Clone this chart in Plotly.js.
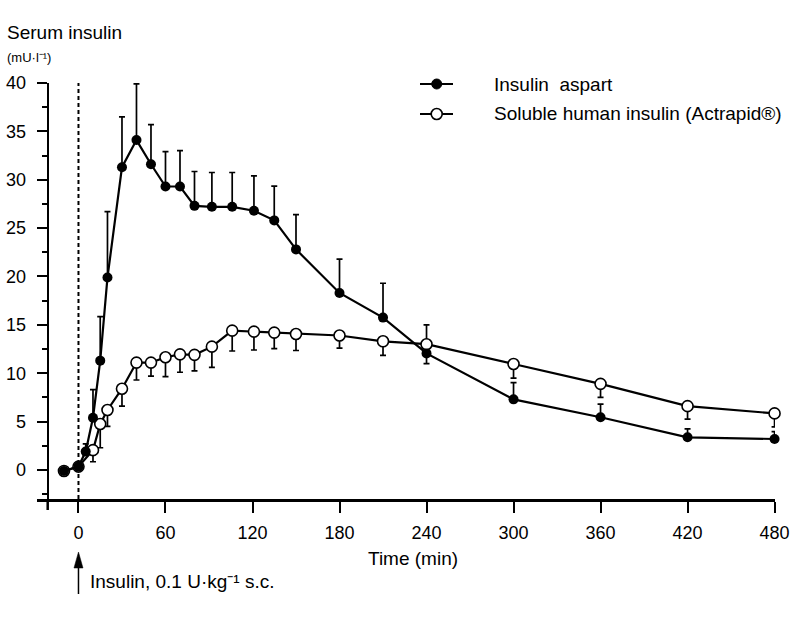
<!DOCTYPE html>
<html>
<head>
<meta charset="utf-8">
<script src="https://cdn.plot.ly/plotly-3.0.1.min.js"></script>
<style>html,body{margin:0;padding:0;background:#fff}#chart{width:800px;height:618px}</style>
</head>
<body>
<div id="chart"></div>
<script>
// Time points (min)
var timesAspart = [-10, 0, 5, 10, 15, 20, 30, 40, 50, 60, 70, 80, 92, 106, 121, 135, 150, 180, 210, 240, 300, 360, 420, 480];
var insulinAspart = [-0.1, 0.35, 1.9, 5.4, 11.3, 19.9, 31.3, 34.1, 31.6, 29.3, 29.3, 27.3, 27.2, 27.2, 26.8, 25.8, 22.8, 18.3, 15.75, 12.05, 7.3, 5.45, 3.38, 3.2];
var aspartErrPlus = [0, 0, 0.8, 2.9, 4.55, 6.8, 5.2, 5.8, 4.1, 3.6, 3.7, 3.55, 3.55, 3.55, 3.6, 3.55, 3.6, 3.5, 3.55, 0, 1.73, 1.35, 0.86, 0.76];
var aspartErrMinus = [0, 0, 0, 0, 0, 0, 0, 0, 0, 0, 0, 0, 0, 0, 0, 0, 0, 0, 0, 1.05, 0, 0, 0, 0];

var timesHuman = [-10, 0, 10, 15, 20, 30, 40, 50, 60, 70, 80, 92, 106, 121, 135, 150, 180, 210, 240, 300, 360, 420, 480];
var humanInsulin = [-0.1, 0.35, 2.05, 4.75, 6.2, 8.4, 11.1, 11.1, 11.65, 11.95, 11.9, 12.75, 14.4, 14.3, 14.2, 14.05, 13.9, 13.3, 13.0, 10.95, 8.9, 6.6, 5.85];
var humanErrPlus = [0, 0, 0, 0, 0, 0, 0, 0, 0, 0, 0, 0, 0, 0, 0, 0, 0, 0, 2.0, 0, 0, 0, 0];
var humanErrMinus = [0, 0, 1.2, 2.45, 1.7, 1.8, 1.8, 1.4, 2.0, 1.85, 1.65, 2.15, 2.1, 1.9, 1.65, 1.7, 1.3, 1.45, 0, 1.45, 1.4, 1.35, 1.4];

var xTicks = [0, 60, 120, 180, 240, 300, 360, 420, 480];
var yTicks = [0, 5, 10, 15, 20, 25, 30, 35, 40];

var legendNames = ['Insulin\u00a0 aspart', 'Soluble human insulin (Actrapid®)'];

var FONT = '"Liberation Sans", Arial, Helvetica, sans-serif';

var W = 800, H = 618;
var M = {l: 37, r: 25, t: 83, b: 119};
var PW = W - M.l - M.r, PH = H - M.t - M.b;
var XR = [-28.6, 480.3];
function px2paperX(p) { return (p - M.l) / PW; }
function px2paperY(p) { return (H - M.b - p) / PH; }
var minPerPx = (XR[1] - XR[0]) / PW;

var traceHuman = {
  x: timesHuman, y: humanInsulin, type: 'scatter', mode: 'lines+markers',
  name: legendNames[1], showlegend: false, cliponaxis: false,
  line: {color: '#000', width: 2.2},
  marker: {symbol: 'circle', size: 11, color: '#fff', line: {color: '#000', width: 1.6}},
  error_y: {type: 'data', symmetric: false, array: humanErrPlus, arrayminus: humanErrMinus,
            color: '#000', thickness: 1.7, width: 3}
};
var traceAspart = {
  x: timesAspart, y: insulinAspart, type: 'scatter', mode: 'lines+markers',
  name: legendNames[0], showlegend: false, cliponaxis: false,
  line: {color: '#000', width: 2.2},
  marker: {symbol: 'circle', size: 10, color: '#000'},
  error_y: {type: 'data', symmetric: false, array: aspartErrPlus, arrayminus: aspartErrMinus,
            color: '#000', thickness: 1.7, width: 3}
};

var yAxisPos = px2paperX(47.7);
var legY1 = px2paperY(84), legY2 = px2paperY(114);
var legL0 = px2paperX(420), legL1 = px2paperX(453), legM = px2paperX(436.7), legT = px2paperX(492);

var shapes = [
  // dashed injection line at t = 0
  {type: 'line', xref: 'x', yref: 'y', x0: 0, x1: 0, y0: -3, y1: 40, layer: 'below',
   line: {color: '#000', width: 2, dash: '4px,3px'}},
  // y-axis extension below x-axis
  {type: 'line', xref: 'paper', yref: 'paper', x0: yAxisPos, x1: yAxisPos, y0: 0, y1: -11 / PH,
   line: {color: '#000', width: 2.5}},
  // arrow shaft + head
  {type: 'line', xref: 'x', yref: 'paper', x0: 0, x1: 0, y0: px2paperY(565), y1: px2paperY(594),
   line: {color: '#000', width: 1.5}},
  {type: 'path', xref: 'x', yref: 'paper',
   path: 'M0,' + px2paperY(552) + ' L' + (4.5 * minPerPx) + ',' + px2paperY(568) + ' L' + (-4.5 * minPerPx) + ',' + px2paperY(568) + ' Z',
   fillcolor: '#000', line: {color: '#000', width: 0.5}},
  // legend symbols
  {type: 'line', xref: 'paper', yref: 'paper', x0: legL0, x1: legL1, y0: legY1, y1: legY1, line: {color: '#000', width: 2.2}},
  {type: 'circle', xref: 'paper', yref: 'paper', xsizemode: 'pixel', ysizemode: 'pixel',
   xanchor: legM, yanchor: legY1, x0: -5, x1: 5, y0: -5, y1: 5, fillcolor: '#000', line: {color: '#000', width: 1}},
  {type: 'line', xref: 'paper', yref: 'paper', x0: legL0, x1: legL1, y0: legY2, y1: legY2, line: {color: '#000', width: 2.2}},
  {type: 'circle', xref: 'paper', yref: 'paper', xsizemode: 'pixel', ysizemode: 'pixel',
   xanchor: legM, yanchor: legY2, x0: -5.5, x1: 5.5, y0: -5.5, y1: 5.5, fillcolor: '#fff', line: {color: '#000', width: 1.6}}
];

var annotations = [
  {text: 'Serum insulin', xref: 'paper', yref: 'paper', x: px2paperX(5), y: px2paperY(32),
   xanchor: 'left', yanchor: 'middle', showarrow: false, font: {family: FONT, size: 19, color: '#000'}},
  {text: '(mU·l\u207B\u00B9)', xref: 'paper', yref: 'paper', x: px2paperX(5), y: px2paperY(57),
   xanchor: 'left', yanchor: 'middle', showarrow: false, font: {family: FONT, size: 13, color: '#000'}},
  {text: legendNames[0], xref: 'paper', yref: 'paper', x: legT, y: legY1,
   xanchor: 'left', yanchor: 'middle', showarrow: false, font: {family: FONT, size: 19, color: '#000'}},
  {text: legendNames[1], xref: 'paper', yref: 'paper', x: legT, y: legY2,
   xanchor: 'left', yanchor: 'middle', showarrow: false, font: {family: FONT, size: 19, color: '#000'}},
  {text: 'Time (min)', xref: 'paper', yref: 'paper', x: px2paperX(412.5), y: px2paperY(558),
   xanchor: 'center', yanchor: 'middle', showarrow: false, font: {family: FONT, size: 19, color: '#000'}},
  {text: 'Insulin, 0.1 U·kg\u207B\u00B9 s.c.', xref: 'paper', yref: 'paper', x: px2paperX(88), y: px2paperY(581),
   xanchor: 'left', yanchor: 'middle', showarrow: false, font: {family: FONT, size: 19, color: '#000'}}
];

var layout = {
  width: W, height: H,
  margin: M,
  paper_bgcolor: '#fff', plot_bgcolor: '#fff',
  showlegend: false,
  font: {family: FONT, size: 18, color: '#000'},
  xaxis: {
    range: XR, showgrid: false, zeroline: false,
    showline: true, linecolor: '#000', linewidth: 2.5,
    ticks: 'outside', ticklen: 11, tickwidth: 2, tickcolor: '#000',
    tickmode: 'array', tickvals: xTicks, ticktext: xTicks.map(String),
    tickfont: {family: FONT, size: 18, color: '#000'}, ticklabelstandoff: 5
  },
  yaxis: {
    range: [-3, 40], showgrid: false, zeroline: false,
    anchor: 'free', position: yAxisPos,
    showline: true, linecolor: '#000', linewidth: 2.5,
    ticks: 'outside', ticklen: 10, tickwidth: 2, tickcolor: '#000',
    tickmode: 'array', tickvals: yTicks, ticktext: yTicks.map(String),
    minor: {tickmode: 'linear', tick0: 0, dtick: 2.5, ticks: 'outside', ticklen: 5, tickwidth: 2, tickcolor: '#000'},
    tickfont: {family: FONT, size: 18, color: '#000'}, ticklabelstandoff: 7
  },
  shapes: shapes,
  annotations: annotations
};

Plotly.newPlot('chart', [traceHuman, traceAspart], layout, {displayModeBar: false, staticPlot: true});
</script>
</body>
</html>
